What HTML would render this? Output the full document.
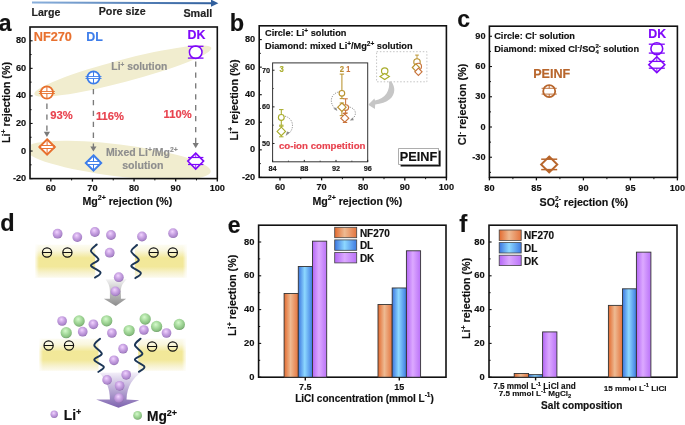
<!DOCTYPE html><html><head><meta charset="utf-8"><style>html,body{margin:0;padding:0;background:#fff;width:685px;height:425px;overflow:hidden}svg{display:block;will-change:transform;font-family:"Liberation Sans", sans-serif}</style></head><body><svg width="685" height="425" viewBox="0 0 685 425" font-family='"Liberation Sans", sans-serif'>
<defs>
<linearGradient id="arr" gradientUnits="userSpaceOnUse" x1="32" x2="213" y1="0" y2="0"><stop offset="0" stop-color="#8AB0DC"/><stop offset="1" stop-color="#31609E"/></linearGradient>
<linearGradient id="gO" x1="0" x2="1"><stop offset="0" stop-color="#E2692E"/><stop offset="0.45" stop-color="#EEBA92"/><stop offset="1" stop-color="#E4743E"/></linearGradient>
<linearGradient id="gB" x1="0" x2="1"><stop offset="0" stop-color="#3B74DE"/><stop offset="0.45" stop-color="#8DD8FF"/><stop offset="1" stop-color="#3E7AE2"/></linearGradient>
<linearGradient id="gP" x1="0" x2="1"><stop offset="0" stop-color="#B466F6"/><stop offset="0.45" stop-color="#DCA9FF"/><stop offset="1" stop-color="#BA72F8"/></linearGradient>
<linearGradient id="mem" x1="0" x2="0" y1="0" y2="1"><stop offset="0" stop-color="#FDFCF3"/><stop offset="0.18" stop-color="#F9F6DC"/><stop offset="0.4" stop-color="#F2E898"/><stop offset="0.66" stop-color="#F2E89A"/><stop offset="0.85" stop-color="#F7F2CF"/><stop offset="1" stop-color="#FCFAEE"/></linearGradient>
<linearGradient id="memh" x1="0" x2="1" y1="0" y2="0"><stop offset="0" stop-color="#fff" stop-opacity="0.9"/><stop offset="0.06" stop-color="#fff" stop-opacity="0"/><stop offset="0.94" stop-color="#fff" stop-opacity="0"/><stop offset="1" stop-color="#fff" stop-opacity="0.9"/></linearGradient>
<linearGradient id="funG" x1="0" x2="0" y1="0" y2="1"><stop offset="0" stop-color="#F2F2F2"/><stop offset="1" stop-color="#8C8C8C"/></linearGradient>
<linearGradient id="funP" x1="0" x2="0" y1="0" y2="1"><stop offset="0" stop-color="#F4F0FA"/><stop offset="1" stop-color="#7D62AE"/></linearGradient>
<radialGradient id="ballP" cx="0.45" cy="0.38" r="0.62" fx="0.42" fy="0.33"><stop offset="0" stop-color="#F2D4FF"/><stop offset="0.5" stop-color="#C8A2E2"/><stop offset="0.85" stop-color="#AC86CC"/><stop offset="1" stop-color="#8E6CAC"/></radialGradient>
<radialGradient id="ballG" cx="0.45" cy="0.38" r="0.62" fx="0.42" fy="0.33"><stop offset="0" stop-color="#D6FACD"/><stop offset="0.5" stop-color="#A6DA9C"/><stop offset="0.85" stop-color="#88BF80"/><stop offset="1" stop-color="#6E9C68"/></radialGradient>
<marker id="ah" viewBox="0 0 10 10" refX="9" refY="5" markerWidth="4" markerHeight="4" orient="auto"><path d="M0,0 L10,5 L0,10 z" fill="#888"/></marker>
</defs>
<rect width="685" height="425" fill="#fff"/>
<line x1="32.00" y1="2.50" x2="212.00" y2="3.20" stroke="url(#arr)" stroke-width="2.0" />
<path d="M211,-0.4 L218.4,3.2 L211,6.8 Z" fill="#31609E"/>
<text x="31.50" y="16.20" font-size="10.6" fill="#222" stroke="#222" stroke-width="0.16" text-anchor="start" font-weight="bold" >Large</text>
<text x="122.20" y="15.00" font-size="10.7" fill="#222" stroke="#222" stroke-width="0.16" text-anchor="middle" font-weight="bold" >Pore size</text>
<text x="197.80" y="16.60" font-size="10.8" fill="#222" stroke="#222" stroke-width="0.16" text-anchor="middle" font-weight="bold" >Small</text>
<text x="-1.30" y="30.80" font-size="23" fill="#111" stroke="#111" stroke-width="0.16" text-anchor="start" font-weight="bold" >a</text>
<ellipse cx="123" cy="71.2" rx="91.5" ry="11.2" fill="#F1EDCF" transform="rotate(-14.7 122.1 71.8)"/>
<clipPath id="clA"><rect x="30" y="27" width="187.3" height="151.6"/></clipPath>
<ellipse cx="118" cy="160.3" rx="93.5" ry="16" fill="#F1EDCF" transform="rotate(7 118 159.5)" clip-path="url(#clA)"/>
<rect x="30" y="27" width="187.3" height="151.6" fill="none" stroke="#111" stroke-width="1.6"/>
<line x1="30.00" y1="40.78" x2="32.60" y2="40.78" stroke="#111" stroke-width="1.1" />
<line x1="30.00" y1="68.35" x2="32.60" y2="68.35" stroke="#111" stroke-width="1.1" />
<line x1="30.00" y1="95.91" x2="32.60" y2="95.91" stroke="#111" stroke-width="1.1" />
<line x1="30.00" y1="123.47" x2="32.60" y2="123.47" stroke="#111" stroke-width="1.1" />
<line x1="30.00" y1="151.04" x2="32.60" y2="151.04" stroke="#111" stroke-width="1.1" />
<line x1="30.00" y1="178.60" x2="32.60" y2="178.60" stroke="#111" stroke-width="1.1" />
<line x1="30.00" y1="54.56" x2="31.60" y2="54.56" stroke="#111" stroke-width="1.0" />
<line x1="30.00" y1="82.13" x2="31.60" y2="82.13" stroke="#111" stroke-width="1.0" />
<line x1="30.00" y1="109.69" x2="31.60" y2="109.69" stroke="#111" stroke-width="1.0" />
<line x1="30.00" y1="137.25" x2="31.60" y2="137.25" stroke="#111" stroke-width="1.0" />
<line x1="30.00" y1="164.82" x2="31.60" y2="164.82" stroke="#111" stroke-width="1.0" />
<text x="26.20" y="43.36" font-size="9.2" fill="#111" stroke="#111" stroke-width="0.15" text-anchor="end" font-weight="bold" >80</text>
<text x="26.20" y="70.92" font-size="9.2" fill="#111" stroke="#111" stroke-width="0.15" text-anchor="end" font-weight="bold" >60</text>
<text x="26.20" y="98.49" font-size="9.2" fill="#111" stroke="#111" stroke-width="0.15" text-anchor="end" font-weight="bold" >40</text>
<text x="26.20" y="126.05" font-size="9.2" fill="#111" stroke="#111" stroke-width="0.15" text-anchor="end" font-weight="bold" >20</text>
<text x="26.20" y="153.61" font-size="9.2" fill="#111" stroke="#111" stroke-width="0.15" text-anchor="end" font-weight="bold" >0</text>
<text x="26.20" y="181.18" font-size="9.2" fill="#111" stroke="#111" stroke-width="0.15" text-anchor="end" font-weight="bold" >-20</text>
<line x1="50.81" y1="178.60" x2="50.81" y2="181.60" stroke="#111" stroke-width="1.3" />
<line x1="92.43" y1="178.60" x2="92.43" y2="181.60" stroke="#111" stroke-width="1.3" />
<line x1="134.06" y1="178.60" x2="134.06" y2="181.60" stroke="#111" stroke-width="1.3" />
<line x1="175.68" y1="178.60" x2="175.68" y2="181.60" stroke="#111" stroke-width="1.3" />
<line x1="217.30" y1="178.60" x2="217.30" y2="181.60" stroke="#111" stroke-width="1.3" />
<line x1="71.62" y1="178.60" x2="71.62" y2="180.40" stroke="#111" stroke-width="1.0" />
<line x1="113.24" y1="178.60" x2="113.24" y2="180.40" stroke="#111" stroke-width="1.0" />
<line x1="154.87" y1="178.60" x2="154.87" y2="180.40" stroke="#111" stroke-width="1.0" />
<line x1="196.49" y1="178.60" x2="196.49" y2="180.40" stroke="#111" stroke-width="1.0" />
<text x="50.81" y="190.70" font-size="9.2" fill="#111" stroke="#111" stroke-width="0.15" text-anchor="middle" font-weight="bold" >60</text>
<text x="92.43" y="190.70" font-size="9.2" fill="#111" stroke="#111" stroke-width="0.15" text-anchor="middle" font-weight="bold" >70</text>
<text x="134.06" y="190.70" font-size="9.2" fill="#111" stroke="#111" stroke-width="0.15" text-anchor="middle" font-weight="bold" >80</text>
<text x="175.68" y="190.70" font-size="9.2" fill="#111" stroke="#111" stroke-width="0.15" text-anchor="middle" font-weight="bold" >90</text>
<text x="217.30" y="190.70" font-size="9.2" fill="#111" stroke="#111" stroke-width="0.15" text-anchor="middle" font-weight="bold" >100</text>
<text x="127.40" y="204.80" font-size="10.6" fill="#111" stroke="#111" stroke-width="0.16" text-anchor="middle" font-weight="bold" >Mg<tspan dy="-4.6" font-size="7">2+</tspan><tspan dy="4.6"> rejection (%)</tspan></text>
<text x="0.00" y="0.00" font-size="10.75" fill="#111" stroke="#111" stroke-width="0.16" text-anchor="middle" font-weight="bold" transform="translate(9.7,102.5) rotate(-90)">Li<tspan dy="-4.2" font-size="7">+</tspan><tspan dy="4.2"> rejection (%)</tspan></text>
<text x="33.80" y="40.80" font-size="12.7" fill="#E8702E" stroke="#E8702E" stroke-width="0.16" text-anchor="start" font-weight="bold" >NF270</text>
<text x="86.20" y="40.80" font-size="12.4" fill="#3D7DEA" stroke="#3D7DEA" stroke-width="0.16" text-anchor="start" font-weight="bold" >DL</text>
<text x="187.50" y="38.90" font-size="12.4" fill="#7F08FA" stroke="#7F08FA" stroke-width="0.16" text-anchor="start" font-weight="bold" >DK</text>
<text x="139.30" y="70.00" font-size="10.3" fill="#8E8E8E" stroke="#8E8E8E" stroke-width="0.16" text-anchor="middle" font-weight="bold" >Li<tspan dy="-3.2" font-size="6.5">+</tspan><tspan dy="3.2"> solution</tspan></text>
<text x="141.80" y="155.60" font-size="10.5" fill="#8E8E8E" stroke="#8E8E8E" stroke-width="0.16" text-anchor="middle" font-weight="bold" >Mixed Li<tspan dy="-3.4" font-size="6.8">+</tspan><tspan dy="3.4">/Mg</tspan><tspan dy="-3.4" font-size="6.8">2+</tspan></text>
<text x="142.80" y="168.90" font-size="10.6" fill="#8E8E8E" stroke="#8E8E8E" stroke-width="0.16" text-anchor="middle" font-weight="bold" >solution</text>
<text x="50.30" y="119.20" font-size="11.2" fill="#E8424E" stroke="#E8424E" stroke-width="0.16" text-anchor="start" font-weight="bold" >93%</text>
<text x="95.90" y="119.50" font-size="11.2" fill="#E8424E" stroke="#E8424E" stroke-width="0.16" text-anchor="start" font-weight="bold" >116%</text>
<text x="163.60" y="117.90" font-size="11.2" fill="#E8424E" stroke="#E8424E" stroke-width="0.16" text-anchor="start" font-weight="bold" >110%</text>
<line x1="46.90" y1="103.60" x2="46.90" y2="132.50" stroke="#7A7A7A" stroke-width="1.35" stroke-dasharray="5.3 5.6"/>
<path d="M43.8,131.8 L50.0,131.8 L46.9,137 Z" fill="#7A7A7A"/>
<line x1="93.40" y1="89.00" x2="93.40" y2="147.10" stroke="#7A7A7A" stroke-width="1.35" stroke-dasharray="5.3 5.6"/>
<path d="M90.30000000000001,146.4 L96.5,146.4 L93.4,151.6 Z" fill="#7A7A7A"/>
<line x1="195.70" y1="61.50" x2="195.70" y2="143.80" stroke="#7A7A7A" stroke-width="1.35" stroke-dasharray="5.3 5.6"/>
<path d="M192.6,143.10000000000002 L198.79999999999998,143.10000000000002 L195.7,148.3 Z" fill="#7A7A7A"/>
<circle cx="46.9" cy="92.5" r="6.05" fill="#fff" stroke="#E8702E" stroke-width="1.8"/>
<line x1="38.90" y1="91.50" x2="54.90" y2="91.50" stroke="#E8702E" stroke-width="0.9" />
<line x1="38.90" y1="93.50" x2="54.90" y2="93.50" stroke="#E8702E" stroke-width="0.9" />
<line x1="46.90" y1="86.45" x2="46.90" y2="91.50" stroke="#E8702E" stroke-width="1.0" />
<line x1="46.90" y1="93.50" x2="46.90" y2="98.55" stroke="#E8702E" stroke-width="1.0" />
<path d="M47.1,139.3 L54.800000000000004,147.0 L47.1,154.7 L39.4,147.0 Z" fill="#fff" stroke="#E8702E" stroke-width="2.0" stroke-linejoin="miter"/>
<line x1="39.60" y1="145.50" x2="54.60" y2="145.50" stroke="#E8702E" stroke-width="0.95" />
<line x1="39.60" y1="148.50" x2="54.60" y2="148.50" stroke="#E8702E" stroke-width="0.95" />
<line x1="47.10" y1="139.30" x2="47.10" y2="145.50" stroke="#E8702E" stroke-width="1.0" />
<line x1="47.10" y1="148.50" x2="47.10" y2="154.70" stroke="#E8702E" stroke-width="1.0" />
<circle cx="93.5" cy="77.5" r="6.05" fill="#fff" stroke="#3D7DEA" stroke-width="1.8"/>
<line x1="85.50" y1="76.50" x2="101.50" y2="76.50" stroke="#3D7DEA" stroke-width="0.9" />
<line x1="85.50" y1="78.50" x2="101.50" y2="78.50" stroke="#3D7DEA" stroke-width="0.9" />
<line x1="93.50" y1="71.45" x2="93.50" y2="76.50" stroke="#3D7DEA" stroke-width="1.0" />
<line x1="93.50" y1="78.50" x2="93.50" y2="83.55" stroke="#3D7DEA" stroke-width="1.0" />
<path d="M93.5,155.3 L101.2,163.0 L93.5,170.7 L85.8,163.0 Z" fill="#fff" stroke="#3D7DEA" stroke-width="2.0" stroke-linejoin="miter"/>
<line x1="86.00" y1="161.50" x2="101.00" y2="161.50" stroke="#3D7DEA" stroke-width="0.95" />
<line x1="86.00" y1="164.50" x2="101.00" y2="164.50" stroke="#3D7DEA" stroke-width="0.95" />
<line x1="93.50" y1="155.30" x2="93.50" y2="161.50" stroke="#3D7DEA" stroke-width="1.0" />
<line x1="93.50" y1="164.50" x2="93.50" y2="170.70" stroke="#3D7DEA" stroke-width="1.0" />
<circle cx="195.7" cy="52.2" r="6.3" fill="#fff" stroke="#7F08FA" stroke-width="1.5"/>
<line x1="187.90" y1="46.30" x2="203.50" y2="46.30" stroke="#7F08FA" stroke-width="1.3" />
<line x1="187.90" y1="58.10" x2="203.50" y2="58.10" stroke="#7F08FA" stroke-width="1.3" />
<path d="M195.7,153.1 L203.6,161.1 L195.7,169.1 L187.8,161.1 Z" fill="#fff" stroke="#7F08FA" stroke-width="1.6"/>
<line x1="188.00" y1="157.50" x2="203.40" y2="157.50" stroke="#7F08FA" stroke-width="1.2" />
<line x1="188.00" y1="164.50" x2="203.40" y2="164.50" stroke="#7F08FA" stroke-width="1.2" />
<line x1="195.70" y1="153.10" x2="195.70" y2="157.80" stroke="#7F08FA" stroke-width="0.8" />
<line x1="195.70" y1="164.30" x2="195.70" y2="169.10" stroke="#7F08FA" stroke-width="0.8" />
<text x="229.80" y="31.30" font-size="23.5" fill="#111" stroke="#111" stroke-width="0.16" text-anchor="start" font-weight="bold" >b</text>
<rect x="259.2" y="25.8" width="187.2" height="151.6" fill="none" stroke="#111" stroke-width="1.6"/>
<line x1="259.20" y1="39.58" x2="261.80" y2="39.58" stroke="#111" stroke-width="1.1" />
<line x1="259.20" y1="67.15" x2="261.80" y2="67.15" stroke="#111" stroke-width="1.1" />
<line x1="259.20" y1="94.71" x2="261.80" y2="94.71" stroke="#111" stroke-width="1.1" />
<line x1="259.20" y1="122.27" x2="261.80" y2="122.27" stroke="#111" stroke-width="1.1" />
<line x1="259.20" y1="149.84" x2="261.80" y2="149.84" stroke="#111" stroke-width="1.1" />
<line x1="259.20" y1="177.40" x2="261.80" y2="177.40" stroke="#111" stroke-width="1.1" />
<line x1="259.20" y1="53.36" x2="260.80" y2="53.36" stroke="#111" stroke-width="1.0" />
<line x1="259.20" y1="80.93" x2="260.80" y2="80.93" stroke="#111" stroke-width="1.0" />
<line x1="259.20" y1="108.49" x2="260.80" y2="108.49" stroke="#111" stroke-width="1.0" />
<line x1="259.20" y1="136.05" x2="260.80" y2="136.05" stroke="#111" stroke-width="1.0" />
<line x1="259.20" y1="163.62" x2="260.80" y2="163.62" stroke="#111" stroke-width="1.0" />
<text x="255.20" y="42.16" font-size="9.2" fill="#111" stroke="#111" stroke-width="0.15" text-anchor="end" font-weight="bold" >80</text>
<text x="255.20" y="69.72" font-size="9.2" fill="#111" stroke="#111" stroke-width="0.15" text-anchor="end" font-weight="bold" >60</text>
<text x="255.20" y="97.29" font-size="9.2" fill="#111" stroke="#111" stroke-width="0.15" text-anchor="end" font-weight="bold" >40</text>
<text x="255.20" y="124.85" font-size="9.2" fill="#111" stroke="#111" stroke-width="0.15" text-anchor="end" font-weight="bold" >20</text>
<text x="255.20" y="152.41" font-size="9.2" fill="#111" stroke="#111" stroke-width="0.15" text-anchor="end" font-weight="bold" >0</text>
<text x="255.20" y="179.98" font-size="9.2" fill="#111" stroke="#111" stroke-width="0.15" text-anchor="end" font-weight="bold" >-20</text>
<line x1="280.00" y1="177.40" x2="280.00" y2="180.40" stroke="#111" stroke-width="1.3" />
<line x1="321.60" y1="177.40" x2="321.60" y2="180.40" stroke="#111" stroke-width="1.3" />
<line x1="363.20" y1="177.40" x2="363.20" y2="180.40" stroke="#111" stroke-width="1.3" />
<line x1="404.80" y1="177.40" x2="404.80" y2="180.40" stroke="#111" stroke-width="1.3" />
<line x1="446.40" y1="177.40" x2="446.40" y2="180.40" stroke="#111" stroke-width="1.3" />
<line x1="300.80" y1="177.40" x2="300.80" y2="179.20" stroke="#111" stroke-width="1.0" />
<line x1="342.40" y1="177.40" x2="342.40" y2="179.20" stroke="#111" stroke-width="1.0" />
<line x1="384.00" y1="177.40" x2="384.00" y2="179.20" stroke="#111" stroke-width="1.0" />
<line x1="425.60" y1="177.40" x2="425.60" y2="179.20" stroke="#111" stroke-width="1.0" />
<text x="280.00" y="189.90" font-size="9.2" fill="#111" stroke="#111" stroke-width="0.15" text-anchor="middle" font-weight="bold" >60</text>
<text x="321.60" y="189.90" font-size="9.2" fill="#111" stroke="#111" stroke-width="0.15" text-anchor="middle" font-weight="bold" >70</text>
<text x="363.20" y="189.90" font-size="9.2" fill="#111" stroke="#111" stroke-width="0.15" text-anchor="middle" font-weight="bold" >80</text>
<text x="404.80" y="189.90" font-size="9.2" fill="#111" stroke="#111" stroke-width="0.15" text-anchor="middle" font-weight="bold" >90</text>
<text x="446.40" y="189.90" font-size="9.2" fill="#111" stroke="#111" stroke-width="0.15" text-anchor="middle" font-weight="bold" >100</text>
<text x="357.40" y="204.80" font-size="10.6" fill="#111" stroke="#111" stroke-width="0.16" text-anchor="middle" font-weight="bold" >Mg<tspan dy="-4.6" font-size="7">2+</tspan><tspan dy="4.6"> rejection (%)</tspan></text>
<text x="0.00" y="0.00" font-size="10.75" fill="#111" stroke="#111" stroke-width="0.16" text-anchor="middle" font-weight="bold" transform="translate(237.6,99.9) rotate(-90)">Li<tspan dy="-4.2" font-size="7">+</tspan><tspan dy="4.2"> rejection (%)</tspan></text>
<text x="265.00" y="35.90" font-size="9.2" fill="#111" stroke="#111" stroke-width="0.15" text-anchor="start" font-weight="bold" >Circle: Li<tspan dy="-2.6" font-size="6.5">+</tspan><tspan dy="2.6"> solution</tspan></text>
<text x="265.00" y="49.00" font-size="9.2" fill="#111" stroke="#111" stroke-width="0.15" text-anchor="start" font-weight="bold" >Diamond: mixed Li<tspan dy="-2.6" font-size="6.5">+</tspan><tspan dy="2.6">/Mg</tspan><tspan dy="-3.2" font-size="6.5">2+</tspan><tspan dy="3.2"> solution</tspan></text>
<rect x="272.6" y="62.9" width="95.09999999999997" height="98.9" fill="#fff" stroke="#333" stroke-width="1"/>
<line x1="272.60" y1="70.23" x2="274.50" y2="70.23" stroke="#222" stroke-width="1.0" />
<text x="270.20" y="72.83" font-size="7.3" fill="#111" stroke="#111" stroke-width="0.12" text-anchor="end" font-weight="bold" >70</text>
<line x1="272.60" y1="106.86" x2="274.50" y2="106.86" stroke="#222" stroke-width="1.0" />
<text x="270.20" y="109.46" font-size="7.3" fill="#111" stroke="#111" stroke-width="0.12" text-anchor="end" font-weight="bold" >60</text>
<line x1="272.60" y1="143.49" x2="274.50" y2="143.49" stroke="#222" stroke-width="1.0" />
<text x="270.20" y="146.09" font-size="7.3" fill="#111" stroke="#111" stroke-width="0.12" text-anchor="end" font-weight="bold" >50</text>
<line x1="272.60" y1="88.54" x2="273.80" y2="88.54" stroke="#333" stroke-width="0.8" />
<line x1="272.60" y1="125.17" x2="273.80" y2="125.17" stroke="#333" stroke-width="0.8" />
<line x1="272.60" y1="161.80" x2="272.60" y2="159.90" stroke="#222" stroke-width="1.0" />
<text x="272.60" y="170.70" font-size="7.3" fill="#111" stroke="#111" stroke-width="0.12" text-anchor="middle" font-weight="bold" >84</text>
<line x1="304.30" y1="161.80" x2="304.30" y2="159.90" stroke="#222" stroke-width="1.0" />
<text x="304.30" y="170.70" font-size="7.3" fill="#111" stroke="#111" stroke-width="0.12" text-anchor="middle" font-weight="bold" >88</text>
<line x1="336.00" y1="161.80" x2="336.00" y2="159.90" stroke="#222" stroke-width="1.0" />
<text x="336.00" y="170.70" font-size="7.3" fill="#111" stroke="#111" stroke-width="0.12" text-anchor="middle" font-weight="bold" >92</text>
<line x1="367.70" y1="161.80" x2="367.70" y2="159.90" stroke="#222" stroke-width="1.0" />
<text x="367.70" y="170.70" font-size="7.3" fill="#111" stroke="#111" stroke-width="0.12" text-anchor="middle" font-weight="bold" >96</text>
<line x1="288.45" y1="161.80" x2="288.45" y2="160.60" stroke="#333" stroke-width="0.8" />
<line x1="320.15" y1="161.80" x2="320.15" y2="160.60" stroke="#333" stroke-width="0.8" />
<line x1="351.85" y1="161.80" x2="351.85" y2="160.60" stroke="#333" stroke-width="0.8" />
<text x="279.60" y="71.70" font-size="9.8" fill="#A9AD2C" stroke="#A9AD2C" stroke-width="0.16" text-anchor="start" font-weight="bold" textLength="4.3" lengthAdjust="spacingAndGlyphs">3</text>
<text x="339.70" y="71.80" font-size="9.8" fill="#B9922E" stroke="#B9922E" stroke-width="0.16" text-anchor="start" font-weight="bold" textLength="4.3" lengthAdjust="spacingAndGlyphs">2</text>
<text x="346.30" y="71.60" font-size="9.4" fill="#C9743C" stroke="#C9743C" stroke-width="0.15" text-anchor="start" font-weight="bold" textLength="4.0" lengthAdjust="spacingAndGlyphs">1</text>
<line x1="281.30" y1="109.60" x2="281.30" y2="125.20" stroke="#A9AD2C" stroke-width="1.05" />
<line x1="279.10" y1="109.60" x2="283.50" y2="109.60" stroke="#A9AD2C" stroke-width="1.05" />
<line x1="279.10" y1="125.20" x2="283.50" y2="125.20" stroke="#A9AD2C" stroke-width="1.05" />
<line x1="281.30" y1="126.20" x2="281.30" y2="136.80" stroke="#A9AD2C" stroke-width="1.05" />
<line x1="279.10" y1="126.20" x2="283.50" y2="126.20" stroke="#A9AD2C" stroke-width="1.05" />
<line x1="279.10" y1="136.80" x2="283.50" y2="136.80" stroke="#A9AD2C" stroke-width="1.05" />
<circle cx="281.3" cy="117.4" r="2.9" fill="#fff" stroke="#A9AD2C" stroke-width="1.15"/>
<path d="M281.3,127.2 L285.5,131.4 L281.3,135.6 L277.1,131.4 Z" fill="#fff" stroke="#A9AD2C" stroke-width="1.15"/>
<line x1="341.90" y1="74.10" x2="341.90" y2="98.60" stroke="#B9922E" stroke-width="1.05" />
<line x1="339.70" y1="74.10" x2="344.10" y2="74.10" stroke="#B9922E" stroke-width="1.05" />
<line x1="339.70" y1="98.60" x2="344.10" y2="98.60" stroke="#B9922E" stroke-width="1.05" />
<line x1="341.90" y1="103.00" x2="341.90" y2="115.60" stroke="#B9922E" stroke-width="1.05" />
<line x1="339.70" y1="103.00" x2="344.10" y2="103.00" stroke="#B9922E" stroke-width="1.05" />
<line x1="339.70" y1="115.60" x2="344.10" y2="115.60" stroke="#B9922E" stroke-width="1.05" />
<line x1="345.60" y1="98.80" x2="345.60" y2="113.00" stroke="#C9743C" stroke-width="1.05" />
<line x1="343.40" y1="98.80" x2="347.80" y2="98.80" stroke="#C9743C" stroke-width="1.05" />
<line x1="343.40" y1="113.00" x2="347.80" y2="113.00" stroke="#C9743C" stroke-width="1.05" />
<line x1="345.00" y1="113.50" x2="345.00" y2="122.50" stroke="#C9743C" stroke-width="1.05" />
<line x1="342.80" y1="113.50" x2="347.20" y2="113.50" stroke="#C9743C" stroke-width="1.05" />
<line x1="342.80" y1="122.50" x2="347.20" y2="122.50" stroke="#C9743C" stroke-width="1.05" />
<circle cx="345.8" cy="107.6" r="2.8" fill="#fff" stroke="#C9743C" stroke-width="1.15"/>
<path d="M344.8,114.2 L348.8,118.2 L344.8,122.2 L340.8,118.2 Z" fill="#fff" stroke="#C9743C" stroke-width="1.15"/>
<circle cx="341.9" cy="93.3" r="2.8" fill="#fff" stroke="#B9922E" stroke-width="1.15"/>
<path d="M341.9,103.0 L346.09999999999997,107.2 L341.9,111.4 L337.7,107.2 Z" fill="#fff" stroke="#B9922E" stroke-width="1.15"/>
<path d="M285,116.2 C294,118.5 294.5,129 288.6,133.6" fill="none" stroke="#8A8A8A" stroke-width="0.9" stroke-dasharray="1.2 1.2"/>
<path d="M285.6,136 L290,132.6 L287,131.6 Z" fill="#8A8A8A"/>
<path d="M338.5,92 C330,94 329,104 335.8,109" fill="none" stroke="#8A8A8A" stroke-width="0.9" stroke-dasharray="1.2 1.2"/>
<path d="M337.3,111 L333.4,108.8 L336.2,107.4 Z" fill="#8A8A8A"/>
<path d="M349.5,107 C357,109 357,116 351.5,119.5" fill="none" stroke="#8A8A8A" stroke-width="0.9" stroke-dasharray="1.2 1.2"/>
<path d="M349.8,120.6 L352.6,117.4 L353.8,120.2 Z" fill="#8A8A8A"/>
<text x="278.90" y="148.80" font-size="9.7" fill="#E8424E" stroke="#E8424E" stroke-width="0.16" text-anchor="start" font-weight="bold" >co-ion competition</text>
<rect x="376.6" y="51.7" width="50.3" height="30.1" fill="none" stroke="#C4C4C4" stroke-width="1" stroke-dasharray="1.5 1.8"/>
<circle cx="384.7" cy="71.0" r="3.2" fill="#fff" stroke="#A9AD2C" stroke-width="1.15"/>
<path d="M384.7,73.4 L389.4,76.5 L384.7,79.6 L380,76.5 Z" fill="#fff" stroke="#A9AD2C" stroke-width="1.15"/>
<line x1="417.00" y1="55.10" x2="417.00" y2="66.00" stroke="#B9922E" stroke-width="0.9" />
<line x1="415.20" y1="55.10" x2="418.80" y2="55.10" stroke="#B9922E" stroke-width="1.0" />
<circle cx="417" cy="61.9" r="3.2" fill="#fff" stroke="#B9922E" stroke-width="1.15"/>
<circle cx="418.3" cy="66.4" r="3.2" fill="#fff" stroke="#C9743C" stroke-width="1.15"/>
<path d="M415.9,63.9 L419.5,67.5 L415.9,71.1 L412.29999999999995,67.5 Z" fill="#fff" stroke="#B9922E" stroke-width="1.15"/>
<path d="M418.4,68.2 L422.0,71.8 L418.4,75.39999999999999 L414.79999999999995,71.8 Z" fill="#fff" stroke="#C9743C" stroke-width="1.15"/>
<path d="M389,81.6 C389.6,86 388.8,90 386.5,93.5 C384,97 380,99.6 375,100.6 L374.4,98.4 L368.2,104.8 L374.9,109 L375.2,104.4 C381,103.8 386,102.5 390,99 C395.5,94 395.5,87 391.4,81.4 Z" fill="#C6C6C6"/>
<rect x="400.6" y="150.6" width="40" height="15.9" fill="#111"/>
<rect x="398.6" y="148.6" width="40" height="15.9" fill="#fff" stroke="#999" stroke-width="0.8"/>
<text x="399.80" y="160.90" font-size="12.7" fill="#111" stroke="#111" stroke-width="0.16" text-anchor="start" font-weight="bold" >PEINF</text>
<text x="457.20" y="26.50" font-size="23" fill="#111" stroke="#111" stroke-width="0.16" text-anchor="start" font-weight="bold" >c</text>
<rect x="489.4" y="26.2" width="188.0" height="151.20000000000002" fill="none" stroke="#111" stroke-width="1.6"/>
<line x1="489.40" y1="36.28" x2="492.00" y2="36.28" stroke="#111" stroke-width="1.1" />
<line x1="489.40" y1="66.52" x2="492.00" y2="66.52" stroke="#111" stroke-width="1.1" />
<line x1="489.40" y1="96.76" x2="492.00" y2="96.76" stroke="#111" stroke-width="1.1" />
<line x1="489.40" y1="127.00" x2="492.00" y2="127.00" stroke="#111" stroke-width="1.1" />
<line x1="489.40" y1="157.24" x2="492.00" y2="157.24" stroke="#111" stroke-width="1.1" />
<line x1="489.40" y1="51.40" x2="491.00" y2="51.40" stroke="#111" stroke-width="1.0" />
<line x1="489.40" y1="81.64" x2="491.00" y2="81.64" stroke="#111" stroke-width="1.0" />
<line x1="489.40" y1="111.88" x2="491.00" y2="111.88" stroke="#111" stroke-width="1.0" />
<line x1="489.40" y1="142.12" x2="491.00" y2="142.12" stroke="#111" stroke-width="1.0" />
<line x1="489.40" y1="172.36" x2="491.00" y2="172.36" stroke="#111" stroke-width="1.0" />
<text x="485.60" y="38.86" font-size="9.2" fill="#111" stroke="#111" stroke-width="0.15" text-anchor="end" font-weight="bold" >90</text>
<text x="485.60" y="69.10" font-size="9.2" fill="#111" stroke="#111" stroke-width="0.15" text-anchor="end" font-weight="bold" >60</text>
<text x="485.60" y="99.34" font-size="9.2" fill="#111" stroke="#111" stroke-width="0.15" text-anchor="end" font-weight="bold" >30</text>
<text x="485.60" y="129.58" font-size="9.2" fill="#111" stroke="#111" stroke-width="0.15" text-anchor="end" font-weight="bold" >0</text>
<text x="485.60" y="159.82" font-size="9.2" fill="#111" stroke="#111" stroke-width="0.15" text-anchor="end" font-weight="bold" >-30</text>
<line x1="489.40" y1="177.40" x2="489.40" y2="180.40" stroke="#111" stroke-width="1.3" />
<line x1="536.40" y1="177.40" x2="536.40" y2="180.40" stroke="#111" stroke-width="1.3" />
<line x1="583.40" y1="177.40" x2="583.40" y2="180.40" stroke="#111" stroke-width="1.3" />
<line x1="630.40" y1="177.40" x2="630.40" y2="180.40" stroke="#111" stroke-width="1.3" />
<line x1="677.40" y1="177.40" x2="677.40" y2="180.40" stroke="#111" stroke-width="1.3" />
<line x1="512.90" y1="177.40" x2="512.90" y2="179.20" stroke="#111" stroke-width="1.0" />
<line x1="559.90" y1="177.40" x2="559.90" y2="179.20" stroke="#111" stroke-width="1.0" />
<line x1="606.90" y1="177.40" x2="606.90" y2="179.20" stroke="#111" stroke-width="1.0" />
<line x1="653.90" y1="177.40" x2="653.90" y2="179.20" stroke="#111" stroke-width="1.0" />
<text x="489.40" y="190.50" font-size="9.2" fill="#111" stroke="#111" stroke-width="0.15" text-anchor="middle" font-weight="bold" >80</text>
<text x="536.40" y="190.50" font-size="9.2" fill="#111" stroke="#111" stroke-width="0.15" text-anchor="middle" font-weight="bold" >85</text>
<text x="583.40" y="190.50" font-size="9.2" fill="#111" stroke="#111" stroke-width="0.15" text-anchor="middle" font-weight="bold" >90</text>
<text x="630.40" y="190.50" font-size="9.2" fill="#111" stroke="#111" stroke-width="0.15" text-anchor="middle" font-weight="bold" >95</text>
<text x="677.40" y="190.50" font-size="9.2" fill="#111" stroke="#111" stroke-width="0.15" text-anchor="middle" font-weight="bold" >100</text>
<text x="583.80" y="205.80" font-size="10.7" fill="#111" stroke="#111" stroke-width="0.16" text-anchor="middle" font-weight="bold" >SO<tspan dy="2.5" font-size="6.5">4</tspan><tspan dy="-7" dx="-3.6" font-size="6.5">2-</tspan><tspan dy="4.5"> rejection (%)</tspan></text>
<text x="0.00" y="0.00" font-size="10.9" fill="#111" stroke="#111" stroke-width="0.16" text-anchor="middle" font-weight="bold" transform="translate(466.4,104.4) rotate(-90)">Cl<tspan dy="-4.2" font-size="7">-</tspan><tspan dy="4.2"> rejection (%)</tspan></text>
<text x="494.20" y="38.80" font-size="9.2" fill="#111" stroke="#111" stroke-width="0.15" text-anchor="start" font-weight="bold" >Circle: Cl<tspan dy="-3.2" font-size="6.5">-</tspan><tspan dy="3.2"> solution</tspan></text>
<text x="494.20" y="51.80" font-size="9.2" fill="#111" stroke="#111" stroke-width="0.15" text-anchor="start" font-weight="bold" >Diamond: mixed Cl<tspan dy="-3.2" font-size="6.5">-</tspan><tspan dy="3.2">/SO</tspan><tspan dy="2.4" font-size="6">4</tspan><tspan dy="-6.4" dx="-3.3" font-size="6">2-</tspan><tspan dy="4"> solution</tspan></text>
<text x="533.20" y="77.60" font-size="12.6" fill="#B8662C" stroke="#B8662C" stroke-width="0.16" text-anchor="start" font-weight="bold" >PEINF</text>
<text x="648.20" y="37.70" font-size="12.4" fill="#7F08FA" stroke="#7F08FA" stroke-width="0.16" text-anchor="start" font-weight="bold" >DK</text>
<circle cx="549.2" cy="91.2" r="6.0" fill="#fff" stroke="#B8662C" stroke-width="1.8"/>
<line x1="541.60" y1="88.30" x2="556.80" y2="88.30" stroke="#B8662C" stroke-width="0.9" />
<line x1="541.60" y1="94.10" x2="556.80" y2="94.10" stroke="#B8662C" stroke-width="0.9" />
<line x1="549.20" y1="85.20" x2="549.20" y2="88.30" stroke="#B8662C" stroke-width="1.0" />
<line x1="549.20" y1="94.10" x2="549.20" y2="97.20" stroke="#B8662C" stroke-width="1.0" />
<path d="M549.2,156.5 L557.3,164.5 L549.2,172.5 L541.1,164.5 Z" fill="#fff" stroke="#B8662C" stroke-width="1.9"/>
<path d="M549.2,156.5 L552.4,159.2 L546,159.2 Z M549.2,172.5 L552.4,169.6 L546,169.6 Z" fill="#B8662C"/>
<line x1="541.20" y1="159.20" x2="557.20" y2="159.20" stroke="#B8662C" stroke-width="1.5" />
<line x1="541.20" y1="169.60" x2="557.20" y2="169.60" stroke="#B8662C" stroke-width="1.5" />
<circle cx="656.8" cy="48.7" r="5.9" fill="#fff" stroke="#7F08FA" stroke-width="1.6"/>
<line x1="648.80" y1="44.20" x2="664.80" y2="44.20" stroke="#7F08FA" stroke-width="1.3" />
<line x1="648.80" y1="53.10" x2="664.80" y2="53.10" stroke="#7F08FA" stroke-width="1.3" />
<path d="M656.8,56.8 L664.8,64.7 L656.8,72.6 L648.8,64.7 Z" fill="#fff" stroke="#7F08FA" stroke-width="1.6"/>
<line x1="648.80" y1="61.40" x2="664.80" y2="61.40" stroke="#7F08FA" stroke-width="1.3" />
<line x1="648.80" y1="68.20" x2="664.80" y2="68.20" stroke="#7F08FA" stroke-width="1.3" />
<line x1="656.80" y1="53.10" x2="656.80" y2="61.40" stroke="#7F08FA" stroke-width="0.9" />
<line x1="656.80" y1="68.20" x2="656.80" y2="72.60" stroke="#7F08FA" stroke-width="0.9" />
<text x="0.30" y="231.30" font-size="23.5" fill="#111" stroke="#111" stroke-width="0.16" text-anchor="start" font-weight="bold" >d</text>
<rect x="35" y="244.7" width="60.2" height="33.10000000000002" fill="url(#mem)"/>
<rect x="134.9" y="244.7" width="51.900000000000006" height="33.10000000000002" fill="url(#mem)"/>
<rect x="39" y="338.7" width="59.5" height="32.10000000000002" fill="url(#mem)"/>
<rect x="138.2" y="338.7" width="47.70000000000002" height="32.10000000000002" fill="url(#mem)"/>
<linearGradient id="fadeL" x1="0" x2="1"><stop offset="0" stop-color="#fff" stop-opacity="0.85"/><stop offset="1" stop-color="#fff" stop-opacity="0"/></linearGradient>
<linearGradient id="fadeR" x1="0" x2="1"><stop offset="0" stop-color="#fff" stop-opacity="0"/><stop offset="1" stop-color="#fff" stop-opacity="0.85"/></linearGradient>
<rect x="35" y="244.7" width="4" height="33.1" fill="url(#fadeL)"/>
<rect x="39" y="338.7" width="4" height="32.1" fill="url(#fadeL)"/>
<rect x="182.8" y="244.7" width="4" height="33.1" fill="url(#fadeR)"/>
<rect x="181.9" y="338.7" width="4" height="32.1" fill="url(#fadeR)"/>
<circle cx="47" cy="252.5" r="4.6" fill="none" stroke="#111" stroke-width="1.2"/>
<line x1="42.40" y1="252.50" x2="51.60" y2="252.50" stroke="#111" stroke-width="1.05" />
<circle cx="67.4" cy="252.5" r="4.6" fill="none" stroke="#111" stroke-width="1.2"/>
<line x1="62.80" y1="252.50" x2="72.00" y2="252.50" stroke="#111" stroke-width="1.05" />
<circle cx="153.6" cy="252.5" r="4.6" fill="none" stroke="#111" stroke-width="1.2"/>
<line x1="149.00" y1="252.50" x2="158.20" y2="252.50" stroke="#111" stroke-width="1.05" />
<circle cx="172.8" cy="252.5" r="4.6" fill="none" stroke="#111" stroke-width="1.2"/>
<line x1="168.20" y1="252.50" x2="177.40" y2="252.50" stroke="#111" stroke-width="1.05" />
<circle cx="48.6" cy="345.5" r="4.6" fill="none" stroke="#111" stroke-width="1.2"/>
<line x1="44.00" y1="345.50" x2="53.20" y2="345.50" stroke="#111" stroke-width="1.05" />
<circle cx="69" cy="345.5" r="4.6" fill="none" stroke="#111" stroke-width="1.2"/>
<line x1="64.40" y1="345.50" x2="73.60" y2="345.50" stroke="#111" stroke-width="1.05" />
<circle cx="152.1" cy="346.5" r="4.6" fill="none" stroke="#111" stroke-width="1.2"/>
<line x1="147.50" y1="346.50" x2="156.70" y2="346.50" stroke="#111" stroke-width="1.05" />
<circle cx="172.7" cy="346.5" r="4.6" fill="none" stroke="#111" stroke-width="1.2"/>
<line x1="168.10" y1="346.50" x2="177.30" y2="346.50" stroke="#111" stroke-width="1.05" />
<path d="M105.6,279.3 L126.8,279.3 C123,283 120.9,286 120.9,291 L120.9,298.8 L126.2,298.8 L115.8,305.9 L103.8,298.8 L109.9,298.8 L109.9,291 C109.9,286 108,283 105.6,279.3 Z" fill="url(#funG)"/>
<path d="M99.4,372.7 L141.4,372.2 C133,378 127,386 126.5,399.6 L139.3,400.2 L118.5,407.8 L96.1,399.4 L109.9,399.5 C109.9,388 106,380 99.4,372.7 Z" fill="url(#funP)"/>
<path d="M96.70,244.50 C95.75,245.58 90.70,248.50 91.00,251.00 C91.30,253.50 98.50,257.08 98.50,259.50 C98.50,261.92 90.67,263.33 91.00,265.50 C91.33,267.67 99.83,270.48 100.50,272.50 C101.17,274.52 95.92,276.75 95.00,277.60" fill="none" stroke="#1C3656" stroke-width="1.95" stroke-linecap="round"/>
<path d="M137.00,245.00 C136.05,246.08 131.00,249.00 131.30,251.50 C131.60,254.00 138.80,257.58 138.80,260.00 C138.80,262.42 130.97,263.83 131.30,266.00 C131.63,268.17 140.13,270.98 140.80,273.00 C141.47,275.02 136.22,277.25 135.30,278.10" fill="none" stroke="#1C3656" stroke-width="1.95" stroke-linecap="round"/>
<path d="M100.00,338.80 C99.05,339.88 94.00,342.80 94.30,345.30 C94.60,347.80 101.80,351.38 101.80,353.80 C101.80,356.22 93.97,357.63 94.30,359.80 C94.63,361.97 103.13,364.78 103.80,366.80 C104.47,368.82 99.22,371.05 98.30,371.90" fill="none" stroke="#1C3656" stroke-width="1.95" stroke-linecap="round"/>
<path d="M140.60,338.70 C139.65,339.78 134.60,342.70 134.90,345.20 C135.20,347.70 142.40,351.28 142.40,353.70 C142.40,356.12 134.57,357.53 134.90,359.70 C135.23,361.87 143.73,364.68 144.40,366.70 C145.07,368.72 139.82,370.95 138.90,371.80" fill="none" stroke="#1C3656" stroke-width="1.95" stroke-linecap="round"/>
<circle cx="57.6" cy="233.7" r="4.9" fill="url(#ballP)"/>
<circle cx="77.3" cy="237.1" r="4.9" fill="url(#ballP)"/>
<circle cx="94.9" cy="232" r="4.9" fill="url(#ballP)"/>
<circle cx="111" cy="235" r="4.9" fill="url(#ballP)"/>
<circle cx="142" cy="236.5" r="4.9" fill="url(#ballP)"/>
<circle cx="173.1" cy="233.2" r="4.9" fill="url(#ballP)"/>
<circle cx="109.7" cy="252.7" r="4.9" fill="url(#ballP)"/>
<circle cx="118.8" cy="277.2" r="4.9" fill="url(#ballP)"/>
<circle cx="115.4" cy="291.4" r="4.9" fill="url(#ballP)"/>
<circle cx="79.1" cy="321" r="5.65" fill="url(#ballG)"/>
<circle cx="66.2" cy="332.7" r="5.65" fill="url(#ballG)"/>
<circle cx="106.7" cy="320.8" r="5.65" fill="url(#ballG)"/>
<circle cx="129.1" cy="330.6" r="5.65" fill="url(#ballG)"/>
<circle cx="145.2" cy="319" r="5.65" fill="url(#ballG)"/>
<circle cx="156.6" cy="326.4" r="5.65" fill="url(#ballG)"/>
<circle cx="179.3" cy="324.4" r="5.65" fill="url(#ballG)"/>
<circle cx="62.1" cy="321" r="4.85" fill="url(#ballP)"/>
<circle cx="93.4" cy="324.3" r="4.85" fill="url(#ballP)"/>
<circle cx="82.7" cy="331.7" r="4.85" fill="url(#ballP)"/>
<circle cx="111.9" cy="333" r="4.85" fill="url(#ballP)"/>
<circle cx="143.9" cy="330" r="4.85" fill="url(#ballP)"/>
<circle cx="166.5" cy="333" r="4.85" fill="url(#ballP)"/>
<circle cx="123.1" cy="348.7" r="4.85" fill="url(#ballP)"/>
<circle cx="114" cy="360.3" r="4.85" fill="url(#ballP)"/>
<circle cx="126.2" cy="374.8" r="4.85" fill="url(#ballP)"/>
<circle cx="107.1" cy="379.9" r="4.85" fill="url(#ballP)"/>
<circle cx="119.6" cy="385.8" r="4.85" fill="url(#ballP)"/>
<circle cx="119" cy="398.2" r="4.85" fill="url(#ballP)"/>
<circle cx="54.2" cy="414.3" r="3.7" fill="url(#ballP)"/>
<text x="63.80" y="419.90" font-size="13.8" fill="#111" stroke="#111" stroke-width="0.16" text-anchor="start" font-weight="bold" >Li<tspan dy="-4.6" font-size="9">+</tspan></text>
<circle cx="137.6" cy="415.4" r="4.4" fill="url(#ballG)"/>
<text x="146.90" y="421.00" font-size="13.8" fill="#111" stroke="#111" stroke-width="0.16" text-anchor="start" font-weight="bold" >Mg<tspan dy="-5" font-size="9">2+</tspan></text>
<text x="227.80" y="233.20" font-size="23" fill="#111" stroke="#111" stroke-width="0.16" text-anchor="start" font-weight="bold" >e</text>
<rect x="258.6" y="225.2" width="187.39999999999998" height="152.0" fill="none" stroke="#111" stroke-width="1.6"/>
<line x1="258.60" y1="242.00" x2="261.20" y2="242.00" stroke="#111" stroke-width="1.1" />
<line x1="258.60" y1="275.80" x2="261.20" y2="275.80" stroke="#111" stroke-width="1.1" />
<line x1="258.60" y1="309.60" x2="261.20" y2="309.60" stroke="#111" stroke-width="1.1" />
<line x1="258.60" y1="343.40" x2="261.20" y2="343.40" stroke="#111" stroke-width="1.1" />
<line x1="258.60" y1="377.20" x2="261.20" y2="377.20" stroke="#111" stroke-width="1.1" />
<line x1="258.60" y1="258.90" x2="260.20" y2="258.90" stroke="#111" stroke-width="1.0" />
<line x1="258.60" y1="292.70" x2="260.20" y2="292.70" stroke="#111" stroke-width="1.0" />
<line x1="258.60" y1="326.50" x2="260.20" y2="326.50" stroke="#111" stroke-width="1.0" />
<line x1="258.60" y1="360.30" x2="260.20" y2="360.30" stroke="#111" stroke-width="1.0" />
<text x="254.40" y="244.63" font-size="9.4" fill="#111" stroke="#111" stroke-width="0.15" text-anchor="end" font-weight="bold" >80</text>
<text x="254.40" y="278.43" font-size="9.4" fill="#111" stroke="#111" stroke-width="0.15" text-anchor="end" font-weight="bold" >60</text>
<text x="254.40" y="312.23" font-size="9.4" fill="#111" stroke="#111" stroke-width="0.15" text-anchor="end" font-weight="bold" >40</text>
<text x="254.40" y="346.03" font-size="9.4" fill="#111" stroke="#111" stroke-width="0.15" text-anchor="end" font-weight="bold" >20</text>
<text x="254.40" y="379.83" font-size="9.4" fill="#111" stroke="#111" stroke-width="0.15" text-anchor="end" font-weight="bold" >0</text>
<rect x="284.1" y="293.54" width="14.20" height="83.66" fill="url(#gO)" stroke="#333" stroke-width="0.9"/>
<rect x="298.3" y="266.50" width="14.20" height="110.69" fill="url(#gB)" stroke="#333" stroke-width="0.9"/>
<rect x="312.5" y="241.16" width="14.20" height="136.04" fill="url(#gP)" stroke="#333" stroke-width="0.9"/>
<rect x="378" y="304.53" width="14.20" height="72.67" fill="url(#gO)" stroke="#333" stroke-width="0.9"/>
<rect x="392.2" y="287.97" width="14.20" height="89.23" fill="url(#gB)" stroke="#333" stroke-width="0.9"/>
<rect x="406.4" y="250.79" width="14.20" height="126.41" fill="url(#gP)" stroke="#333" stroke-width="0.9"/>
<line x1="305.30" y1="377.20" x2="305.30" y2="380.40" stroke="#111" stroke-width="1.4" />
<line x1="399.30" y1="377.20" x2="399.30" y2="380.40" stroke="#111" stroke-width="1.4" />
<text x="305.30" y="389.60" font-size="9.0" fill="#111" stroke="#111" stroke-width="0.14" text-anchor="middle" font-weight="bold" >7.5</text>
<text x="399.30" y="389.60" font-size="9.0" fill="#111" stroke="#111" stroke-width="0.14" text-anchor="middle" font-weight="bold" >15</text>
<text x="364.50" y="401.70" font-size="10" fill="#111" stroke="#111" stroke-width="0.16" text-anchor="middle" font-weight="bold" >LiCl concentration (mmol L<tspan dy="-4.3" font-size="6.5">-1</tspan><tspan dy="4.3">)</tspan></text>
<text x="0.00" y="0.00" font-size="10.75" fill="#111" stroke="#111" stroke-width="0.16" text-anchor="middle" font-weight="bold" transform="translate(236.4,295.3) rotate(-90)">Li<tspan dy="-4.2" font-size="7">+</tspan><tspan dy="4.2"> rejection (%)</tspan></text>
<rect x="334.7" y="227.3" width="22" height="10.4" fill="url(#gO)" stroke="#444" stroke-width="0.8"/>
<text x="359.90" y="236.60" font-size="10" fill="#111" stroke="#111" stroke-width="0.16" text-anchor="start" font-weight="bold" >NF270</text>
<rect x="334.7" y="239.9" width="22" height="10.4" fill="url(#gB)" stroke="#444" stroke-width="0.8"/>
<text x="359.90" y="249.20" font-size="10" fill="#111" stroke="#111" stroke-width="0.16" text-anchor="start" font-weight="bold" >DL</text>
<rect x="334.7" y="252.5" width="22" height="10.4" fill="url(#gP)" stroke="#444" stroke-width="0.8"/>
<text x="359.90" y="261.80" font-size="10" fill="#111" stroke="#111" stroke-width="0.16" text-anchor="start" font-weight="bold" >DK</text>
<text x="459.30" y="231.50" font-size="24" fill="#111" stroke="#111" stroke-width="0.16" text-anchor="start" font-weight="bold" >f</text>
<rect x="489" y="225.2" width="188" height="152.0" fill="none" stroke="#111" stroke-width="1.6"/>
<line x1="489.00" y1="242.00" x2="491.60" y2="242.00" stroke="#111" stroke-width="1.1" />
<line x1="489.00" y1="275.80" x2="491.60" y2="275.80" stroke="#111" stroke-width="1.1" />
<line x1="489.00" y1="309.60" x2="491.60" y2="309.60" stroke="#111" stroke-width="1.1" />
<line x1="489.00" y1="343.40" x2="491.60" y2="343.40" stroke="#111" stroke-width="1.1" />
<line x1="489.00" y1="377.20" x2="491.60" y2="377.20" stroke="#111" stroke-width="1.1" />
<line x1="489.00" y1="258.90" x2="490.60" y2="258.90" stroke="#111" stroke-width="1.0" />
<line x1="489.00" y1="292.70" x2="490.60" y2="292.70" stroke="#111" stroke-width="1.0" />
<line x1="489.00" y1="326.50" x2="490.60" y2="326.50" stroke="#111" stroke-width="1.0" />
<line x1="489.00" y1="360.30" x2="490.60" y2="360.30" stroke="#111" stroke-width="1.0" />
<text x="484.80" y="244.63" font-size="9.4" fill="#111" stroke="#111" stroke-width="0.15" text-anchor="end" font-weight="bold" >80</text>
<text x="484.80" y="278.43" font-size="9.4" fill="#111" stroke="#111" stroke-width="0.15" text-anchor="end" font-weight="bold" >60</text>
<text x="484.80" y="312.23" font-size="9.4" fill="#111" stroke="#111" stroke-width="0.15" text-anchor="end" font-weight="bold" >40</text>
<text x="484.80" y="346.03" font-size="9.4" fill="#111" stroke="#111" stroke-width="0.15" text-anchor="end" font-weight="bold" >20</text>
<text x="484.80" y="379.83" font-size="9.4" fill="#111" stroke="#111" stroke-width="0.15" text-anchor="end" font-weight="bold" >0</text>
<rect x="514.2" y="373.48" width="14.40" height="3.72" fill="url(#gO)" stroke="#333" stroke-width="0.9"/>
<rect x="528.6" y="374.66" width="14.00" height="2.54" fill="url(#gB)" stroke="#333" stroke-width="0.9"/>
<rect x="542.6" y="331.91" width="14.30" height="45.29" fill="url(#gP)" stroke="#333" stroke-width="0.9"/>
<rect x="608.4" y="305.38" width="14.10" height="71.82" fill="url(#gO)" stroke="#333" stroke-width="0.9"/>
<rect x="622.5" y="288.81" width="13.90" height="88.39" fill="url(#gB)" stroke="#333" stroke-width="0.9"/>
<rect x="636.4" y="252.14" width="14.50" height="125.06" fill="url(#gP)" stroke="#333" stroke-width="0.9"/>
<line x1="535.60" y1="377.20" x2="535.60" y2="380.40" stroke="#111" stroke-width="1.4" />
<line x1="629.50" y1="377.20" x2="629.50" y2="380.40" stroke="#111" stroke-width="1.4" />
<text x="534.40" y="389.40" font-size="8.2" fill="#111" stroke="#111" stroke-width="0.13" text-anchor="middle" font-weight="bold" >7.5 mmol L<tspan dy="-3.2" font-size="5.8">-1</tspan><tspan dy="3.2"> LiCl and</tspan></text>
<text x="535.00" y="396.30" font-size="8.1" fill="#111" stroke="#111" stroke-width="0.13" text-anchor="middle" font-weight="bold" >7.5 mmol L<tspan dy="-3.2" font-size="5.8">-1</tspan><tspan dy="3.2"> MgCl</tspan><tspan dy="2" font-size="5.8">2</tspan></text>
<text x="635.20" y="390.50" font-size="8.1" fill="#111" stroke="#111" stroke-width="0.13" text-anchor="middle" font-weight="bold" >15 mmol L<tspan dy="-3.2" font-size="5.8">-1</tspan><tspan dy="3.2"> LiCl</tspan></text>
<text x="581.70" y="409.40" font-size="10.1" fill="#111" stroke="#111" stroke-width="0.16" text-anchor="middle" font-weight="bold" >Salt composition</text>
<text x="0.00" y="0.00" font-size="10.75" fill="#111" stroke="#111" stroke-width="0.16" text-anchor="middle" font-weight="bold" transform="translate(469.8,298.5) rotate(-90)">Li<tspan dy="-4.2" font-size="7">+</tspan><tspan dy="4.2"> rejection (%)</tspan></text>
<rect x="499.2" y="230.0" width="22" height="10.4" fill="url(#gO)" stroke="#444" stroke-width="0.8"/>
<text x="524.10" y="239.30" font-size="10" fill="#111" stroke="#111" stroke-width="0.16" text-anchor="start" font-weight="bold" >NF270</text>
<rect x="499.2" y="242.6" width="22" height="10.4" fill="url(#gB)" stroke="#444" stroke-width="0.8"/>
<text x="524.10" y="251.90" font-size="10" fill="#111" stroke="#111" stroke-width="0.16" text-anchor="start" font-weight="bold" >DL</text>
<rect x="499.2" y="255.2" width="22" height="10.4" fill="url(#gP)" stroke="#444" stroke-width="0.8"/>
<text x="524.10" y="264.50" font-size="10" fill="#111" stroke="#111" stroke-width="0.16" text-anchor="start" font-weight="bold" >DK</text>
</svg></body></html>
